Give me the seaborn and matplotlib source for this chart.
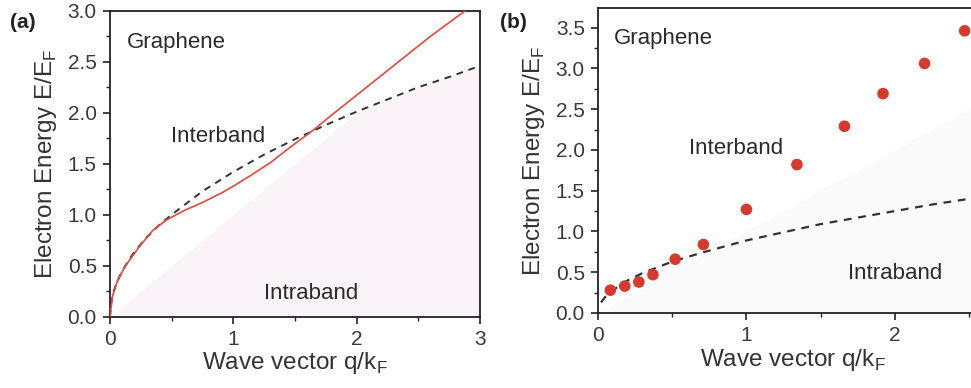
import numpy as np
import pandas as pd
import matplotlib
matplotlib.use("Agg")
import matplotlib.pyplot as plt
import seaborn as sns
from matplotlib.ticker import MultipleLocator, FormatStrFormatter

# ---- panel (a): plasmon dispersion vs. intraband edge ----
a_q_plasmon = [0.0, 0.02, 0.054, 0.12, 0.24, 0.35, 0.46, 0.60, 0.75, 0.90, 1.0, 1.135,
               1.30, 1.46, 1.65, 1.78, 2.05, 2.33, 2.60, 2.87, 2.95]
a_e_plasmon = [0.0, 0.20, 0.33, 0.49, 0.69, 0.85, 0.95, 1.04, 1.12, 1.21, 1.28, 1.38,
               1.51, 1.66, 1.83, 1.96, 2.22, 2.49, 2.75, 2.99, 3.06]
a_q_edge = [0.0, 0.01, 0.03, 0.06, 0.1, 0.15, 0.2, 0.3, 0.4, 0.5, 0.75, 1.0,
            1.25, 1.5, 1.75, 2.0, 2.25, 2.5, 2.75, 3.0]
a_e_edge = [0.0, 0.14, 0.25, 0.35, 0.45, 0.55, 0.64, 0.78, 0.90, 1.00, 1.23, 1.42,
            1.59, 1.74, 1.88, 2.01, 2.13, 2.25, 2.35, 2.46]

# ---- panel (b): measured plasmon points vs. intraband edge ----
b_q_points = [0.083, 0.18, 0.275, 0.37, 0.52, 0.71, 1.0, 1.34, 1.66, 1.92, 2.20, 2.47]
b_e_points = [0.28, 0.33, 0.38, 0.47, 0.66, 0.84, 1.27, 1.82, 2.29, 2.69, 3.06, 3.46]
b_q_edge = [0.02, 0.05, 0.1, 0.2, 0.3, 0.5, 0.7, 1.0, 1.25, 1.5, 1.75, 2.0, 2.25, 2.5, 2.6]
b_e_edge = [0.13, 0.20, 0.28, 0.40, 0.49, 0.63, 0.74, 0.89, 0.99, 1.09, 1.17, 1.25,
            1.33, 1.40, 1.43]

sns.set_theme(style="ticks")
plt.rcParams["font.family"] = ["Liberation Sans", "DejaVu Sans"]
plt.rcParams["mathtext.fontset"] = "custom"
plt.rcParams["mathtext.rm"] = "Liberation Sans"

RED = "#e8473d"
DOT = "#d63a2c"
TXT = "#2b2b2b"

fig = plt.figure(figsize=(9.71, 3.88), dpi=100)
ax_a = fig.add_axes([0.1133, 0.1838, 0.3810, 0.7886])
ax_b = fig.add_axes([0.6159, 0.1933, 0.4005, 0.7861])

df_a_pl = pd.DataFrame({"q": a_q_plasmon, "E": a_e_plasmon})
df_a_ed = pd.DataFrame({"q": a_q_edge, "E": a_e_edge})
df_b_pt = pd.DataFrame({"q": b_q_points, "E": b_e_points})
df_b_ed = pd.DataFrame({"q": b_q_edge, "E": b_e_edge})

# very faint shading of the intraband continuum (below E = q, capped by the edge)
qa = np.array(a_q_edge)
ax_a.fill_between(qa, 0, np.minimum(qa, a_e_edge), color="#f6ebf4", alpha=0.55,
                  lw=0, zorder=0)
qb = np.linspace(0, 2.7, 50)
ax_b.fill_between(qb, 0, qb, color="#f5f3f3", alpha=0.4, lw=0, zorder=0)

sns.lineplot(data=df_a_ed, x="q", y="E", ax=ax_a, color="#333333", lw=1.4,
             linestyle=(0, (3.5, 3)), zorder=2)
sns.lineplot(data=df_a_pl, x="q", y="E", ax=ax_a, color=RED, lw=1.2, zorder=3)

sns.lineplot(data=df_b_ed, x="q", y="E", ax=ax_b, color="#333333", lw=1.6,
             linestyle=(0, (3.5, 3)), zorder=2)
sns.scatterplot(data=df_b_pt, x="q", y="E", ax=ax_b, color=DOT, s=70,
                edgecolor="none", zorder=3)

ax_a.set_xlim(0, 3)
ax_a.set_ylim(0, 3.0)
ax_b.set_xlim(0, 2.62)
ax_b.set_ylim(0, 3.74)

for ax in (ax_a, ax_b):
    ax.xaxis.set_major_locator(MultipleLocator(1))
    ax.xaxis.set_minor_locator(MultipleLocator(0.5))
    ax.yaxis.set_major_locator(MultipleLocator(0.5))
    ax.yaxis.set_minor_locator(MultipleLocator(0.25))
    ax.yaxis.set_major_formatter(FormatStrFormatter("%.1f"))
    ax.tick_params(which="major", direction="out", length=5, width=1.2,
                   labelsize=15, colors="#222222", labelcolor="#3a3a3a", pad=4.5)
    ax.tick_params(which="minor", direction="out", length=3, width=1.0,
                   colors="#222222")
    for sp in ax.spines.values():
        sp.set_linewidth(1.3)
        sp.set_color("#222222")
    ax.set_xlabel("Wave vector q/k$_\\mathregular{F}$", fontsize=17.5,
                  color="#333333", labelpad=1)
    ax.set_ylabel("Electron Energy E/E$_\\mathregular{F}$", fontsize=17.5,
                  color="#333333", labelpad=6)

# annotations, panel (a)
ax_a.text(0.14, 2.69, "Graphene", fontsize=16, color=TXT, va="center", ha="left")
ax_a.text(0.88, 1.77, "Interband", fontsize=16, color=TXT, va="center", ha="center")
ax_a.text(1.63, 0.23, "Intraband", fontsize=16, color=TXT, va="center", ha="center")

# annotations, panel (b)
ax_b.text(0.11, 3.37, "Graphene", fontsize=16, color=TXT, va="center", ha="left")
ax_b.text(0.93, 2.02, "Interband", fontsize=16, color=TXT, va="center", ha="center")
ax_b.text(2.0, 0.49, "Intraband", fontsize=16, color=TXT, va="center", ha="center")

fig.text(23 / 971, 1 - 23 / 388, "(a)", fontsize=15, fontweight="bold",
         color="#222222", ha="center", va="center")
fig.text(513 / 971, 1 - 22 / 388, "(b)", fontsize=15, fontweight="bold",
         color="#222222", ha="center", va="center")

fig.savefig("out.png", dpi=100)
